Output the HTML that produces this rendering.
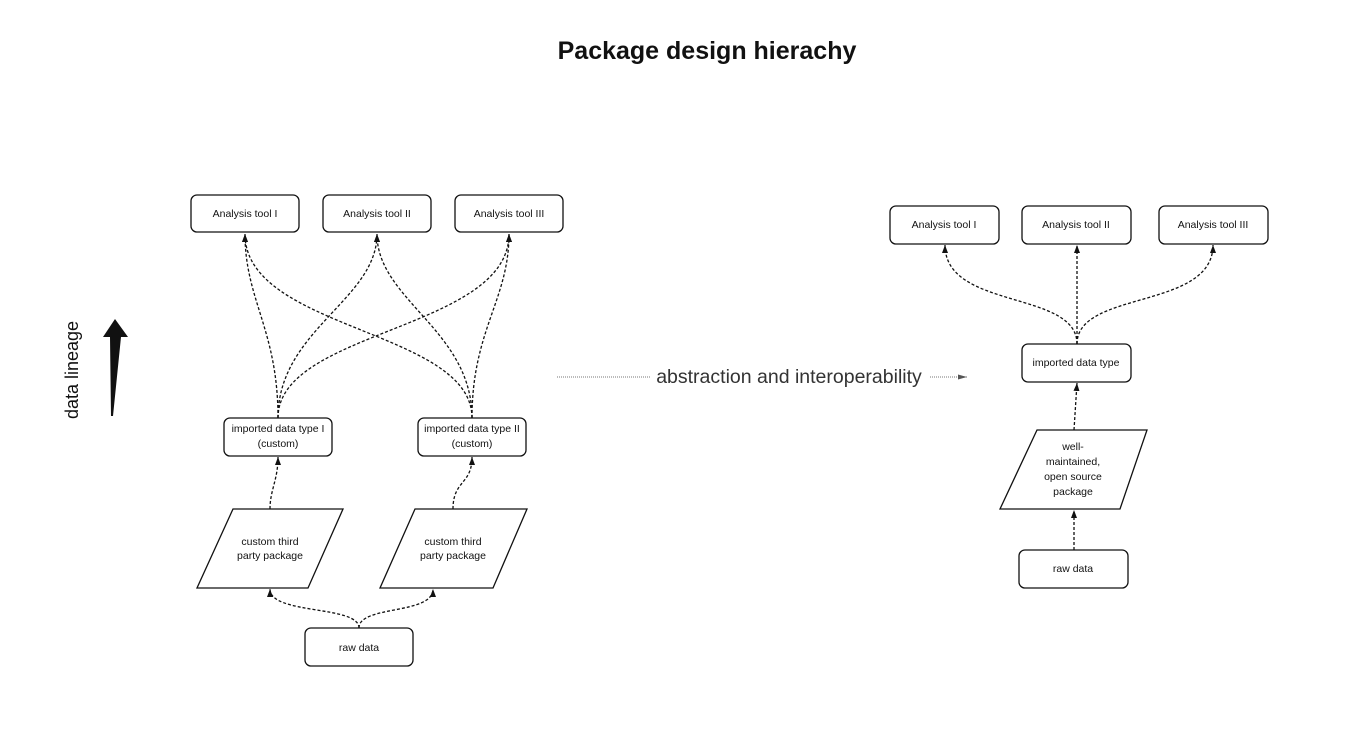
<!DOCTYPE html>
<html><head><meta charset="utf-8"><style>
body{margin:0;width:1351px;height:739px;background:#fff;overflow:hidden}
svg{display:block}
text{font-family:"Liberation Sans",sans-serif;fill:#111}
.b{fill:#fff;stroke:#111;stroke-width:1.3}
.t{font-size:10.5px;text-anchor:middle}
.d{fill:none;stroke:#111;stroke-width:1.3;stroke-dasharray:3 2}
</style></head><body>
<svg width="1351" height="739" viewBox="0 0 1351 739">
<defs><marker id="a" markerWidth="10" markerHeight="8" refX="8" refY="4" orient="auto" markerUnits="userSpaceOnUse"><path d="M0,1 L8,4 L0,7 Z" fill="#111"/></marker>
<marker id="g" markerWidth="10" markerHeight="8" refX="9" refY="4" orient="auto" markerUnits="userSpaceOnUse"><path d="M0,1.5 L9,4 L0,6.5 Z" fill="#555"/></marker></defs>
<text x="707" y="59" style="font-size:25px;font-weight:bold" text-anchor="middle">Package design hierachy</text>

<text transform="translate(78,370) rotate(-90)" style="font-size:18px" text-anchor="middle">data lineage</text>
<path d="M115,319 L128,337 L121,337 L113,416 L111,416 L110,337 L103,337 Z" fill="#111"/>

<path class="d" d="M278,418 C278,330 245,300 245,234" marker-end="url(#a)"/>
<path class="d" d="M278,418 C278,330 377,300 377,234" marker-end="url(#a)"/>
<path class="d" d="M278,418 C278,330 509,330 509,234" marker-end="url(#a)"/>
<path class="d" d="M472,418 C472,330 245,330 245,234" marker-end="url(#a)"/>
<path class="d" d="M472,418 C472,330 377,300 377,234" marker-end="url(#a)"/>
<path class="d" d="M472,418 C472,330 509,300 509,234" marker-end="url(#a)"/>
<path class="d" d="M270,509 C270,490 278,480 278,457" marker-end="url(#a)"/>
<path class="d" d="M453,509 C453,480 472,485 472,457" marker-end="url(#a)"/>
<path class="d" d="M359,628 C359,605 270,615 270,589" marker-end="url(#a)"/>
<path class="d" d="M359,628 C359,605 433,615 433,589" marker-end="url(#a)"/>

<rect class="b" x="191" y="195" width="108" height="37" rx="6"/><text class="t" x="245" y="217">Analysis tool I</text>
<rect class="b" x="323" y="195" width="108" height="37" rx="6"/><text class="t" x="377" y="217">Analysis tool II</text>
<rect class="b" x="455" y="195" width="108" height="37" rx="6"/><text class="t" x="509" y="217">Analysis tool III</text>
<rect class="b" x="224" y="418" width="108" height="38" rx="6"/><text class="t" x="278" y="432">imported data type I</text><text class="t" x="278" y="447">(custom)</text>
<rect class="b" x="418" y="418" width="108" height="38" rx="6"/><text class="t" x="472" y="432">imported data type II</text><text class="t" x="472" y="447">(custom)</text>
<path class="b" d="M233,509 L343,509 L308,588 L197,588 Z"/><text class="t" x="270" y="545">custom third</text><text class="t" x="270" y="559">party package</text>
<path class="b" d="M415,509 L527,509 L493,588 L380,588 Z"/><text class="t" x="453" y="545">custom third</text><text class="t" x="453" y="559">party package</text>
<rect class="b" x="305" y="628" width="108" height="38" rx="6"/><text class="t" x="359" y="651">raw data</text>

<line x1="557" y1="377" x2="650" y2="377" stroke="#777" stroke-width="1" stroke-dasharray="1 1"/>
<text x="789" y="383" style="font-size:19.5px;fill:#333" text-anchor="middle">abstraction and interoperability</text>
<line x1="930" y1="377" x2="967" y2="377" stroke="#777" stroke-width="1" stroke-dasharray="1 1" marker-end="url(#g)"/>

<path class="d" d="M1077,344 C1077,290 945,310 945,245" marker-end="url(#a)"/>
<path class="d" d="M1077,344 L1077,245" marker-end="url(#a)"/>
<path class="d" d="M1077,344 C1077,290 1213,310 1213,245" marker-end="url(#a)"/>
<path class="d" d="M1074,430 L1077,383" marker-end="url(#a)"/>
<path class="d" d="M1074,550 L1074,510" marker-end="url(#a)"/>

<rect class="b" x="890" y="206" width="109" height="38" rx="6"/><text class="t" x="944" y="228">Analysis tool I</text>
<rect class="b" x="1022" y="206" width="109" height="38" rx="6"/><text class="t" x="1076" y="228">Analysis tool II</text>
<rect class="b" x="1159" y="206" width="109" height="38" rx="6"/><text class="t" x="1213" y="228">Analysis tool III</text>
<rect class="b" x="1022" y="344" width="109" height="38" rx="6"/><text class="t" x="1076" y="366">imported data type</text>
<path class="b" d="M1037,430 L1147,430 L1120,509 L1000,509 Z"/>
<text class="t" x="1073" y="450">well-</text><text class="t" x="1073" y="465">maintained,</text><text class="t" x="1073" y="480">open source</text><text class="t" x="1073" y="495">package</text>
<rect class="b" x="1019" y="550" width="109" height="38" rx="6"/><text class="t" x="1073" y="572">raw data</text>
</svg>
</body></html>
